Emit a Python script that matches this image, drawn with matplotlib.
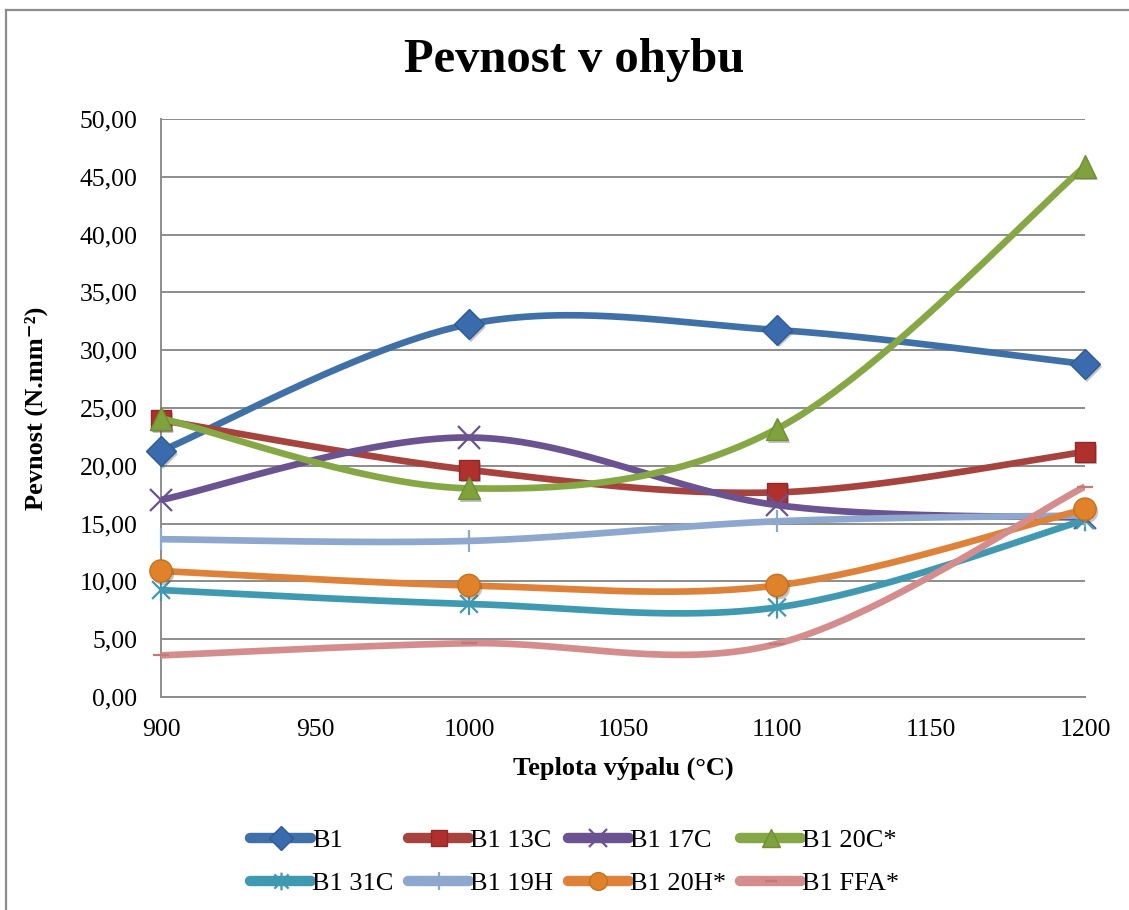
import numpy as np
import matplotlib
matplotlib.use("Agg")
import matplotlib.pyplot as plt
import matplotlib.patheffects as pe
from matplotlib.lines import Line2D
from matplotlib.path import Path

plt.rcParams['font.family'] = ['Liberation Serif', 'DejaVu Serif']

# firing temperature (°C) and bending strength (N.mm-2)
teplota = [900, 1000, 1100, 1200]
b1 = [21.28, 32.25, 31.75, 28.80]
b1_13c = [23.95, 19.65, 17.70, 21.20]
b1_17c = [17.05, 22.45, 16.60, 15.50]
b1_20c = [24.10, 18.05, 23.20, 45.90]
b1_31c = [9.25, 8.05, 7.75, 15.30]
b1_19h = [13.65, 13.50, 15.20, 15.70]
b1_20h = [10.90, 9.65, 9.65, 16.25]
b1_ffa = [3.60, 4.65, 4.60, 18.20]

nazvy = ['B1', 'B1 13C', 'B1 17C', 'B1 20C*', 'B1 31C', 'B1 19H', 'B1 20H*', 'B1 FFA*']
hodnoty = [b1, b1_13c, b1_17c, b1_20c, b1_31c, b1_19h, b1_20h, b1_ffa]

# asterisk marker: vertical bar plus both diagonals
hvezda = Path([(0, -1), (0, 1), (-0.8, -0.8), (0.8, 0.8), (-0.8, 0.8), (0.8, -0.8)],
              [Path.MOVETO, Path.LINETO, Path.MOVETO, Path.LINETO, Path.MOVETO, Path.LINETO])

# line colour, marker, marker face, marker edge, marker size
styly = [
    ('#4070A8', 'D', '#3A6CAD', '#2D5B95', 15),
    ('#A7433F', 's', '#B0302D', '#8E2B28', 14),
    ('#6A5390', 'x', 'none', '#6A5390', 16),
    ('#86A844', '^', '#7FA23C', '#6E8F32', 16),
    ('#3E99B1', hvezda, 'none', '#3E99B1', 16),
    ('#8DA7CE', '|', 'none', '#8DA7CE', 16),
    ('#DE8139', 'o', '#E0822A', '#C86F1E', 16),
    ('#D48D8C', '_', 'none', '#C57878', 11),
]


def vyhlad(x, y, n=60):
    # Catmull-Rom style Bezier smoothing between the measured points
    p = np.column_stack([x, y]).astype(float)
    p_ext = np.vstack([p[0], p, p[-1]])
    out = []
    t = np.linspace(0, 1, n)[:, None]
    for i in range(len(p) - 1):
        p0, p1, p2, p3 = p_ext[i], p_ext[i + 1], p_ext[i + 2], p_ext[i + 3]
        c1 = p1 + (p2 - p0) / 6
        c2 = p2 - (p3 - p1) / 6
        seg = ((1 - t) ** 3 * p1 + 3 * (1 - t) ** 2 * t * c1
               + 3 * (1 - t) * t ** 2 * c2 + t ** 3 * p2)
        out.append(seg if i == 0 else seg[1:])
    s = np.vstack(out)
    return s[:, 0], s[:, 1]


fig = plt.figure(figsize=(11.29, 9.10), dpi=100)
ax = fig.add_axes([161 / 1129, 1 - 697 / 910, 924 / 1129, 578 / 910])

stin = [pe.SimplePatchShadow(offset=(1.5, -2.0), shadow_rgbFace='#555555', alpha=0.35),
        pe.Normal()]

handles = []
for k, (nazev, y) in enumerate(zip(nazvy, hodnoty)):
    barva, mk, mface, medge, ms = styly[k]
    xs, ys = vyhlad(teplota, y)
    ax.plot(xs, ys, color=barva, lw=4.8, solid_capstyle='butt', zorder=3 + k * 0.1)
    ax.plot(teplota, y, ls='none', marker=mk, ms=ms, mfc=mface, mec=medge,
            mew=1.6 if mface == 'none' else 1.0, zorder=3.05 + k * 0.1,
            path_effects=stin, clip_on=False)
    handles.append(Line2D([], [], color=barva, lw=7.5, solid_capstyle='round',
                          marker=mk, ms=ms * 0.8, mfc=mface, mec=medge,
                          mew=1.6 if mface == 'none' else 1.0))

ax.set_xlim(900, 1200)
ax.set_ylim(0, 50)
ax.set_xticks(np.arange(900, 1201, 50))
ax.set_yticks(np.arange(0, 50.1, 5))
ax.set_yticklabels([f"{v:.2f}".replace('.', ',') for v in np.arange(0, 50.1, 5)])
ax.tick_params(length=0, labelsize=18.5)
ax.tick_params(axis='y', pad=17)
ax.tick_params(axis='x', pad=16)
ax.grid(axis='y', color='#8C8C8C', lw=1.4)
ax.set_axisbelow(True)
for s in ['top', 'right']:
    ax.spines[s].set_visible(False)
for s in ['left', 'bottom']:
    ax.spines[s].set_color('#8C8C8C')
    ax.spines[s].set_linewidth(1.4)

ax.set_xlabel('Teplota výpalu (°C)', fontsize=19, fontweight='bold')
ax.set_ylabel('Pevnost (N.mm⁻²)', fontsize=19, fontweight='bold')
ax.xaxis.set_label_coords(0.5, (697 - 757) / 578)
ax.yaxis.set_label_coords((48 - 161) / 924, 0.5)

fig.text(574 / 1129, 1 - 60 / 910, 'Pevnost v ohybu', fontsize=35,
         fontweight='bold', ha='center', va='center')

# legend filled column-wise, so reorder to read row by row
poradi = [0, 4, 1, 5, 2, 6, 3, 7]
fig.legend([handles[i] for i in poradi], [nazvy[i] for i in poradi],
           loc='center', bbox_to_anchor=(575 / 1129, 1 - 862 / 910), ncol=4,
           frameon=False, fontsize=19, handlelength=2.3, handletextpad=0.05,
           columnspacing=0.55, labelspacing=0.75)

# chart area border
fig.add_artist(Line2D([6 / 1129, 6 / 1129], [0, 1 - 10 / 910], color='#8C8C8C', lw=1.6))
fig.add_artist(Line2D([6 / 1129, 1], [1 - 10 / 910, 1 - 10 / 910], color='#8C8C8C', lw=1.6))

fig.savefig('out.png', dpi=100)
